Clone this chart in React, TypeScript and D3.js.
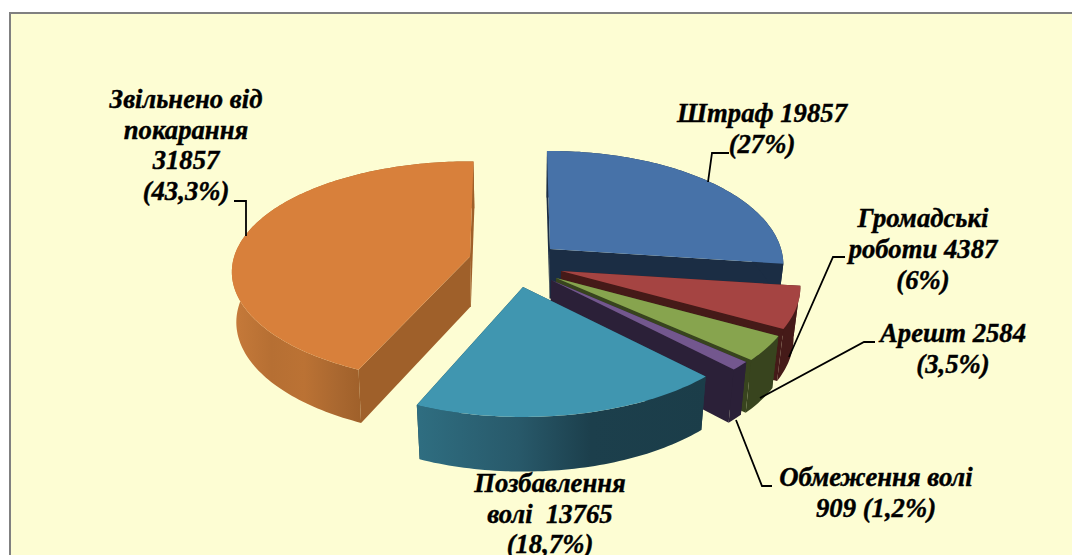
import { useRef, useEffect } from 'react';
import * as d3 from 'd3';

// Values as printed on the chart labels, in drawing order (clockwise from 12 o'clock)
const categories = ['Штраф', 'Громадські роботи', 'Арешт', 'Обмеження волі', 'Позбавлення волі', 'Звільнено від покарання'];
const values = [19857, 4387, 2584, 909, 13765, 31857];

const labelLines = [
  ['Штраф 19857', '(27%)'],
  ['Громадські', 'роботи 4387', '(6%)'],
  ['Арешт 2584', '(3,5%)'],
  ['Обмеження волі', '909 (1,2%)'],
  ['Позбавлення', 'волі  13765', '(18,7%)'],
  ['Звільнено від', 'покарання', '31857', '(43,3%)'],
];

const topColors = ['#4772a8', '#a54442', '#87a44e', '#73578e', '#4096b0', '#d8803b'];
const wallColors = ['#1b2d44', '#451a18', '#38441e', '#2b2038', '#1b3d49', '#9f602a'];

// Exploded apex of each slice on the page
const apexes = [[550, 249], [561, 271], [556, 278], [551, 280], [523, 287], [470, 256.5]];

// Small per-slice corrections of the 3D projection
const startNudge = [-0.015, 0, 0, 0, 0, 0.012];
const endNudge = [0, 0, 0, 0, -0.012, 0.017];
const radiusX = [0.975, 1, 1, 1, 1, 0.995];
const radiusY = [1, 1, 1, 1, 1, 0.97];
const bottomShrink = [0.975, 0.975, 0.975, 0.975, 0.975, 0.985];

// First baseline and centre of each label
const labelPos = [
  { x: 762, y: 122, dy: 31 },
  { x: 923, y: 227, dy: 31 },
  { x: 953, y: 342, dy: 31 },
  { x: 876, y: 486, dy: 31 },
  { x: 550, y: 492, dy: 30.5 },
  { x: 186, y: 108, dy: 30.7 },
];

const leaders: [number, number][][] = [
  [[729, 153], [712, 153], [708, 182]],
  [[845, 257], [833, 257], [789, 357]],
  [[875, 342], [864, 342], [760, 398]],
  [[772, 486], [762, 486], [736, 420]],
  [],
  [[234, 201], [246, 201], [246, 236]],
];

const WIDTH = 1072;
const HEIGHT = 555;
const RX = 237;
const RY = 111.75;
const PERSP = 0.14;
const DEPTH = 52;
const VANISH_X = 530;

export default function App() {
  const svgRef = useRef<SVGSVGElement>(null);

  useEffect(() => {
    if (!svgRef.current) return;
    const svg = d3.select(svgRef.current);
    svg.selectAll('*').remove();

    // Disc point to screen offset, nearer points are a bit bigger
    const xScale = d3.scaleLinear().domain([-1, 1]).range([-RX, RX]);
    const yScale = d3.scaleLinear().domain([-1, 1]).range([-RY, RY]);
    const project = (angle: number): [number, number] => {
      const u = Math.sin(angle);
      const v = -Math.cos(angle);
      const s = 1 / (1 - PERSP * v);
      return [xScale(u) * s, yScale(v) * s];
    };

    const pie = d3.pie<number>().sort(null).startAngle(0).endAngle(2 * Math.PI);
    const arcs = pie(values);
    const line = d3.line();

    const defs = svg.append('defs');
    const addGradient = (id: string, x1: number, x2: number, stops: [number, string][]) => {
      const g = defs
        .append('linearGradient')
        .attr('id', id)
        .attr('gradientUnits', 'userSpaceOnUse')
        .attr('x1', x1)
        .attr('x2', x2)
        .attr('y1', 0)
        .attr('y2', 0);
      stops.forEach(([o, c]) => g.append('stop').attr('offset', o).attr('stop-color', c));
    };
    addGradient('tealWall', 416, 708, [
      [0, '#2f6e81'],
      [0.35, '#28596a'],
      [0.6, '#1c3f4c'],
      [1, '#1b3d49'],
    ]);
    addGradient('orangeWall', 233, 362, [
      [0, '#c67a3a'],
      [0.3, '#b66f33'],
      [0.55, '#bb7234'],
      [0.8, '#aa6830'],
      [1, '#9f602a'],
    ]);

    // Background and frame
    svg.append('rect').attr('width', WIDTH).attr('height', HEIGHT).attr('fill', '#fff');
    svg
      .append('rect')
      .attr('x', 10)
      .attr('y', 13)
      .attr('width', WIDTH + 20)
      .attr('height', HEIGHT + 20)
      .attr('fill', '#fdfdd3')
      .attr('stroke', '#808080')
      .attr('stroke-width', 2);

    // Back to front: orange stands apart, the rest overlap clockwise
    const order = [5, 0, 1, 2, 3, 4];
    order.forEach((i) => {
      const a = arcs[i];
      const [cx, cy] = apexes[i];
      const start = a.startAngle + startNudge[i];
      const end = a.endAngle + endNudge[i];
      const steps = Math.max(4, Math.ceil((end - start) / 0.02));
      const rim = d3.range(steps + 1).map((k) => {
        const p = project(start + ((end - start) * k) / steps);
        return [cx + p[0] * radiusX[i], cy + p[1] * radiusY[i]] as [number, number];
      });
      // Bottom face sits lower and slightly smaller
      const down = (p: [number, number]): [number, number] => [
        VANISH_X + (p[0] - VANISH_X) * bottomShrink[i],
        p[1] + DEPTH + (p[1] - 330) * 0.03,
      ];
      const g = svg.append('g').attr('class', 'slice').attr('data-name', categories[i]);
      const wall = wallColors[i];

      // radial walls
      [rim[0], rim[rim.length - 1]].forEach((p) => {
        const c: [number, number] = [cx, cy];
        g.append('path')
          .attr('d', line([c, p, down(p), down(c)]))
          .attr('fill', wall);
      });

      // outer wall
      const arcFill = i === 4 ? 'url(#tealWall)' : i === 5 ? 'url(#orangeWall)' : wall;
      g.append('path')
        .attr('d', line([...rim, ...rim.map(down).reverse()]))
        .attr('fill', arcFill);

      // top
      g.append('path')
        .attr('d', line([[cx, cy], ...rim]) + 'Z')
        .attr('fill', topColors[i]);
    });

    // Leader lines
    leaders
      .filter((l) => l.length > 0)
      .forEach((l) => {
        svg
          .append('path')
          .attr('d', line(l))
          .attr('fill', 'none')
          .attr('stroke', '#000')
          .attr('stroke-width', 1.8);
      });

    // Labels
    labelLines.forEach((lines, i) => {
      const pos = labelPos[i];
      lines.forEach((t, k) => {
        svg
          .append('text')
          .attr('x', pos.x)
          .attr('y', pos.y + k * pos.dy)
          .attr('text-anchor', 'middle')
          .attr('font-family', '"Liberation Serif", serif')
          .attr('font-weight', 'bold')
          .attr('font-style', 'italic')
          .attr('font-size', 26.7)
          .attr('fill', '#000')
          .attr('stroke', '#000')
          .attr('stroke-width', 0.4)
          .style('white-space', 'pre')
          .text(t);
      });
    });
  }, []);

  return (
    <svg
      ref={svgRef}
      width={WIDTH}
      height={HEIGHT}
      style={{ position: 'absolute', left: 0, top: 0, display: 'block' }}
    />
  );
}
